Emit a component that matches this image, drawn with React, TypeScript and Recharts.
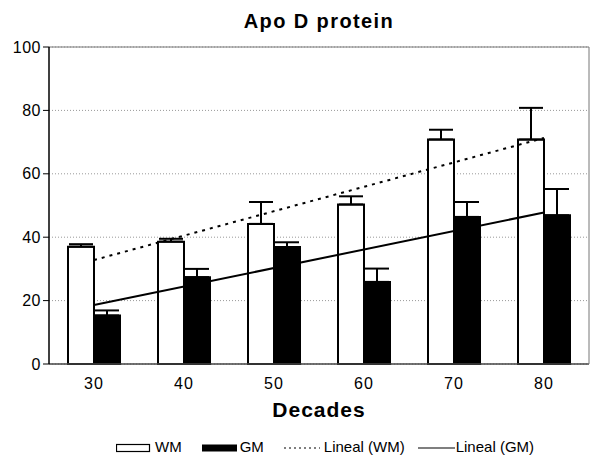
import {
  ComposedChart,
  Bar,
  Line,
  ErrorBar,
  XAxis,
  YAxis,
  CartesianGrid,
  ReferenceLine,
} from "recharts";

const decades = ["30", "40", "50", "60", "70", "80"];
const wmMeans = [37.0, 38.6, 44.2, 50.3, 70.8, 70.8];
const wmErrors = [0.8, 0.9, 6.9, 2.6, 3.1, 10.0];
const gmMeans = [15.3, 27.4, 36.9, 25.9, 46.4, 46.9];
const gmErrors = [1.6, 2.6, 1.5, 4.2, 4.7, 8.3];
// trend lines read at both ends only
const wmTrend = [32.8, null, null, null, null, 71.3];
const gmTrend = [18.6, null, null, null, null, 47.8];
const yTicks = [0, 20, 40, 60, 80, 100];
const edgeTicks = [1, 2, 3, 4, 5, 6];

const data = decades.map((d, i) => ({
  decade: d,
  wm: wmMeans[i],
  wmErr: [0, wmErrors[i]],
  gm: gmMeans[i],
  gmErr: [0, gmErrors[i]],
  wmTrend: wmTrend[i],
  gmTrend: gmTrend[i],
}));

const font = "'Liberation Sans', Arial, sans-serif";

function LegendRow() {
  const item = { display: "flex", alignItems: "center", marginRight: 20 };
  return (
    <div
      style={{
        position: "absolute",
        left: 116,
        top: 441,
        display: "flex",
        fontFamily: font,
        fontSize: 15,
        lineHeight: "12px",
        color: "#000",
      }}
    >
      <div style={item}>
        <svg width={35} height={12} style={{ marginRight: 4 }}>
          <rect x={0.5} y={3.5} width={33} height={7} fill="#fff" stroke="#000" strokeWidth={1.2} />
        </svg>
        WM
      </div>
      <div style={item}>
        <svg width={35} height={12} style={{ marginRight: 3 }}>
          <rect x={0} y={3.5} width={35} height={7} fill="#000" />
        </svg>
        GM
      </div>
      <div style={{ ...item, marginRight: 13 }}>
        <svg width={36} height={12} style={{ marginRight: 4 }}>
          <line x1={0} y1={7} x2={36} y2={7} stroke="#000" strokeWidth={1.2} strokeDasharray="2 3" />
        </svg>
        Lineal (WM)
      </div>
      <div style={item}>
        <svg width={37} height={12} style={{ marginRight: 1 }}>
          <line x1={0} y1={7} x2={37} y2={7} stroke="#000" strokeWidth={1.2} />
        </svg>
        Lineal (GM)
      </div>
    </div>
  );
}

export default function App() {
  return (
    <div
      style={{
        position: "absolute",
        left: 0,
        top: 0,
        width: 590,
        height: 455,
        background: "#fff",
        fontFamily: font,
      }}
    >
      <div
        style={{
          position: "absolute",
          left: 49,
          top: 10,
          width: 540,
          textAlign: "center",
          fontWeight: "bold",
          fontSize: 20,
          letterSpacing: 1.4,
          lineHeight: "23px",
        }}
      >
        Apo D protein
      </div>
      <ComposedChart
        width={590}
        height={455}
        data={data}
        margin={{ top: 47, right: 0, bottom: 0, left: 0 }}
        barSize={26}
        barGap={0}
        style={{ fontFamily: font }}
      >
        <CartesianGrid vertical={false} stroke="#999" strokeDasharray="1 2" />
        <XAxis
          xAxisId="edge"
          type="number"
          domain={[0, 6]}
          ticks={edgeTicks}
          height={0}
          axisLine={false}
          tickSize={6}
          tickLine={{ stroke: "#666" }}
          tickFormatter={() => ""}
        />
        <XAxis
          dataKey="decade"
          height={91}
          tickLine={false}
          tickSize={6}
          tickMargin={8}
          axisLine={{ stroke: "#444", strokeWidth: 1.5 }}
          tick={{ fill: "#000", fontSize: 16, letterSpacing: 1 }}
          label={{
            value: "Decades",
            position: "insideTop",
            offset: 38,
            fill: "#000",
            fontSize: 21,
            fontWeight: "bold",
            letterSpacing: 1,
          }}
        />
        <YAxis
          domain={[0, 100]}
          ticks={yTicks}
          width={49}
          tickSize={6}
          tickMargin={2}
          axisLine={{ stroke: "#000", strokeWidth: 1.5 }}
          tickLine={{ stroke: "#000" }}
          tick={{ fill: "#000", fontSize: 16, letterSpacing: 0.5 }}
        />
        <YAxis
          yAxisId="right"
          orientation="right"
          domain={[0, 100]}
          width={1}
          tick={false}
          tickLine={false}
          axisLine={{ stroke: "#777" }}
        />
        <ReferenceLine y={100} stroke="#777" />
        <Bar dataKey="wm" fill="#fff" stroke="#000" strokeWidth={2} isAnimationActive={false}>
          <ErrorBar dataKey="wmErr" width={12} stroke="#000" strokeWidth={2} direction="y" />
        </Bar>
        <Bar dataKey="gm" fill="#000" stroke="#000" strokeWidth={2} isAnimationActive={false}>
          <ErrorBar dataKey="gmErr" width={12} stroke="#000" strokeWidth={2} direction="y" />
        </Bar>
        <Line
          type="linear"
          dataKey="wmTrend"
          stroke="#000"
          strokeWidth={2}
          strokeDasharray="3 5"
          dot={false}
          connectNulls
          isAnimationActive={false}
        />
        <Line
          type="linear"
          dataKey="gmTrend"
          stroke="#000"
          strokeWidth={2}
          dot={false}
          connectNulls
          isAnimationActive={false}
        />
      </ComposedChart>
      <LegendRow />
    </div>
  );
}
